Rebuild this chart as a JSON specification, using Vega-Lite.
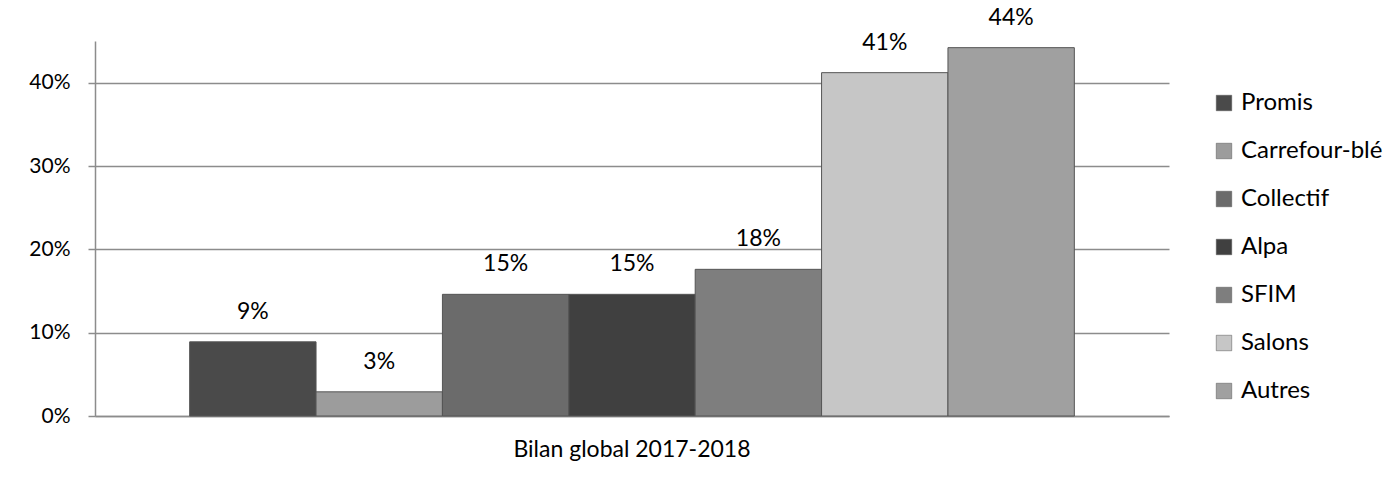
{
  "$schema": "https://vega.github.io/schema/vega-lite/v6.json",
  "autosize": "none",
  "width": 1074,
  "height": 375,
  "padding": {"left": 95, "top": 41, "right": 227, "bottom": 62},
  "background": "white",
  "config": {
    "font": "Lato",
    "view": {"stroke": null},
    "axis": {"labelFont": "Lato", "labelColor": "#000000"}
  },
  "data": {
    "values": [
      {"groupe": "Bilan global 2017-2018", "source": "Promis", "part": 0.089, "label": "9%"},
      {"groupe": "Bilan global 2017-2018", "source": "Carrefour-blé", "part": 0.029, "label": "3%"},
      {"groupe": "Bilan global 2017-2018", "source": "Collectif", "part": 0.146, "label": "15%"},
      {"groupe": "Bilan global 2017-2018", "source": "Alpa", "part": 0.146, "label": "15%"},
      {"groupe": "Bilan global 2017-2018", "source": "SFIM", "part": 0.176, "label": "18%"},
      {"groupe": "Bilan global 2017-2018", "source": "Salons", "part": 0.412, "label": "41%"},
      {"groupe": "Bilan global 2017-2018", "source": "Autres", "part": 0.442, "label": "44%"}
    ]
  },
  "encoding": {
    "x": {
      "field": "groupe", "type": "nominal",
      "scale": {"paddingInner": 0, "paddingOuter": 0.107},
      "axis": {"title": null, "labelAngle": 0, "ticks": false, "labelPadding": 22, "labelFontSize": 23, "labelLimit": 0, "domainColor": "#8c8c8c", "domainWidth": 1.5}
    },
    "xOffset": {
      "field": "source", "type": "nominal",
      "sort": ["Promis", "Carrefour-blé", "Collectif", "Alpa", "SFIM", "Salons", "Autres"],
      "scale": {"paddingInner": 0, "paddingOuter": 0}
    },
    "y": {
      "field": "part", "type": "quantitative",
      "scale": {"domain": [0, 0.45], "nice": false},
      "axis": {"title": null, "format": ".0%", "values": [0, 0.1, 0.2, 0.3, 0.4], "labelFontSize": 21, "tickSize": 7, "tickColor": "#8c8c8c", "tickWidth": 1.5, "labelPadding": 18, "domainColor": "#8c8c8c", "domainWidth": 1.5, "gridColor": "#8c8c8c", "gridWidth": 1.5}
    }
  },
  "layer": [
    {
      "mark": {"type": "bar", "stroke": "#555555", "strokeWidth": 1},
      "encoding": {
        "color": {
          "field": "source", "type": "nominal",
          "sort": ["Promis", "Carrefour-blé", "Collectif", "Alpa", "SFIM", "Salons", "Autres"],
          "scale": {
            "domain": ["Promis", "Carrefour-blé", "Collectif", "Alpa", "SFIM", "Salons", "Autres"],
            "range": ["#4a4a4a", "#9c9c9c", "#6b6b6b", "#404040", "#7e7e7e", "#c6c6c6", "#a0a0a0"]
          },
          "legend": {
            "title": null, "orient": "none", "legendX": 1117, "legendY": 50,
            "symbolType": "square", "symbolSize": 240, "symbolStrokeWidth": 0.5, "symbolStrokeColor": "#555555",
            "labelFontSize": 24, "labelFont": "Lato", "labelColor": "#000000", "labelOffset": 5,
            "rowPadding": 24, "padding": 0, "labelLimit": 300
          }
        }
      }
    },
    {
      "mark": {"type": "text", "fontSize": 23, "font": "Lato", "color": "#000000", "baseline": "middle", "dy": -30},
      "encoding": {"text": {"field": "label"}}
    }
  ]
}
